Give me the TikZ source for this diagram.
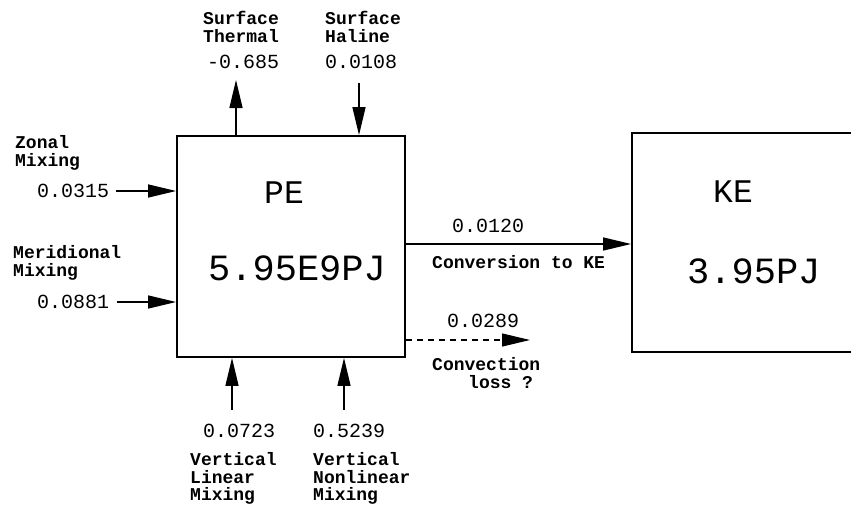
\documentclass[tikz,border=0pt]{standalone}
\usepackage{fontspec}
\setmainfont{Liberation Mono}
\usetikzlibrary{arrows.meta}
\begin{document}
\begin{tikzpicture}[x=1pt,y=-1pt,
  box/.style={draw,line width=1.8pt,inner sep=0pt},
  arr/.style={line width=1.4pt,-{Triangle[length=28pt,width=13pt]}},
  lab/.style={font=\fontsize{18}{18}\selectfont\bfseries,anchor=base west,inner sep=0pt},
  num/.style={font=\fontsize{20}{20}\selectfont,anchor=base west,inner sep=0pt},
  big/.style={font=\fontsize{37}{37}\selectfont,anchor=base west,inner sep=0pt},
  mid/.style={font=\fontsize{33}{33}\selectfont,anchor=base west,inner sep=0pt}]
\useasboundingbox (0,0) rectangle (851,504);
\clip (0,0) rectangle (851,504);
% boxes
\node[box,minimum width=228pt,minimum height=221pt] (pe) at (291,246.5) {};
\node[box,minimum width=238pt,minimum height=219pt] (ke) at (751,242.5) {};
\node[mid] (petxt) at (264,203) {PE};
\node[big] (peval) at (208,280) {5.95E9PJ};
\node[mid] (ketxt) at (713,202) {KE};
\node[big] (keval) at (687,283) {3.95PJ};
% top labels
\node[lab] (st1) at (203,24) {Surface};
\node[lab] (st2) at (203,42) {Thermal};
\node[num] (stv) at (207,68) {-0.685};
\node[lab] (sh1) at (325,24) {Surface};
\node[lab] (sh2) at (325,42) {Haline};
\node[num] (shv) at (325,68) {0.0108};
% left labels
\node[lab] (z1) at (15,148) {Zonal};
\node[lab] (z2) at (15,166) {Mixing};
\node[num] (zv) at (37,197) {0.0315};
\node[lab] (m1) at (13,258) {Meridional};
\node[lab] (m2) at (13,276) {Mixing};
\node[num] (mv) at (37,308) {0.0881};
% bottom labels
\node[num] (vlv) at (203,437) {0.0723};
\node[lab] (vl1) at (190,465) {Vertical};
\node[lab] (vl2) at (190,483) {Linear};
\node[lab] (vl3) at (190,500) {Mixing};
\node[num] (vnv) at (313,437) {0.5239};
\node[lab] (vn1) at (313,465) {Vertical};
\node[lab] (vn2) at (313,483) {Nonlinear};
\node[lab] (vn3) at (313,500) {Mixing};
% right labels
\node[num] (cv) at (452,232) {0.0120};
\node[lab] (ct) at (432,268) {Conversion to KE};
\node[num] (dv) at (447,327) {0.0289};
\node[lab] (d1) at (432,370) {Convection};
\node[lab] (d2) at (468,388) {loss ?};
% coordinates
\coordinate (stc) at (236,80);
\coordinate (shc) at (359,83);
\coordinate (zc) at (116,191);
\coordinate (mc) at (117,302);
\coordinate (vlc) at (232,410);
\coordinate (vnc) at (344,410);
\coordinate (cc) at (0,244);
\coordinate (dc) at (530,340);
% arrows
\draw[arr] (stc |- pe.north) -- (stc);
\draw[arr] (shc) -- (shc |- pe.north);
\draw[arr] (zc) -- (zc -| pe.west);
\draw[arr] (mc) -- (mc -| pe.west);
\draw[arr] (vlc) -- (vlc |- pe.south);
\draw[arr] (vnc) -- (vnc |- pe.south);
\draw[arr] (cc -| pe.east) -- (cc -| ke.west);
\draw[arr,dash pattern=on 6pt off 5pt,line width=1.2pt] (dc -| pe.east) -- (dc);
\end{tikzpicture}
\end{document}
